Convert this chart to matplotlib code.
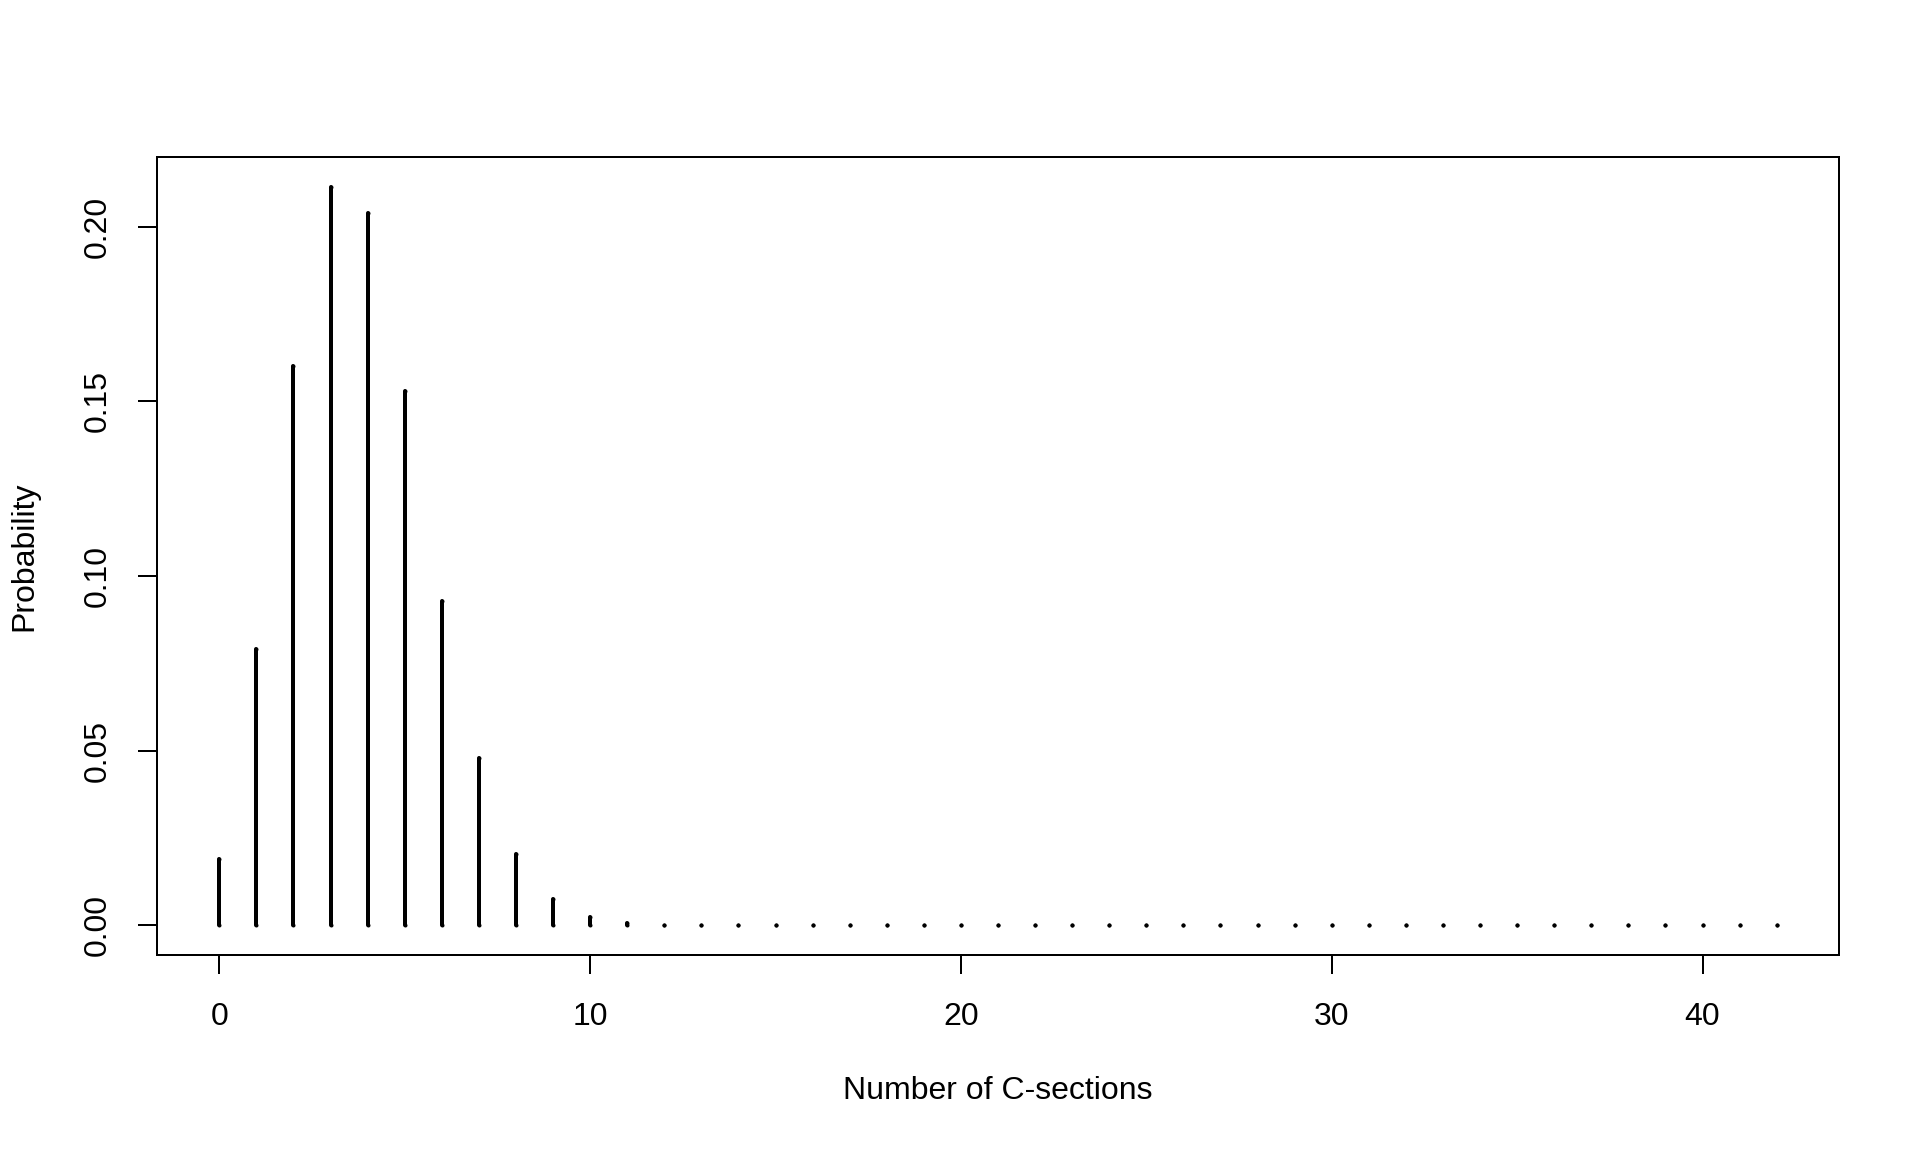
import matplotlib
matplotlib.use("Agg")
import matplotlib.pyplot as plt
import numpy as np

# values
n_csections = list(range(0, 43))
prob = [0.019, 0.079, 0.160, 0.2115, 0.204, 0.153, 0.093, 0.048, 0.0205, 0.0077,
        0.0025, 0.0007, 0.0002, 0.00004, 0.0, 0.0, 0.0, 0.0, 0.0, 0.0,
        0.0, 0.0, 0.0, 0.0, 0.0, 0.0, 0.0, 0.0, 0.0, 0.0,
        0.0, 0.0, 0.0, 0.0, 0.0, 0.0, 0.0, 0.0, 0.0, 0.0,
        0.0, 0.0, 0.0]
x_ticks = [0, 10, 20, 30, 40]
y_ticks = [0.00, 0.05, 0.10, 0.15, 0.20]
y_tick_labels = ["0.00", "0.05", "0.10", "0.15", "0.20"]

plt.rcParams['font.family'] = ['Liberation Sans', 'DejaVu Sans']
plt.rcParams['font.size'] = 12

DPI = 192
fig = plt.figure(figsize=(10, 6), dpi=DPI)
# R default margins (5.1, 4.1, 4.1, 2.1 lines), one line = 38.4 px here
ax = fig.add_axes([157 / 1920, 1 - 955 / 1152, 1682 / 1920, 798 / 1152])

lw = 1.5  # R lwd=2
x = np.array(n_csections)
y = np.array(prob)
ax.vlines(x, 0, y, colors="black", linewidth=lw, capstyle="round")
# round end caps so that the zero-height stems still show as dots
ax.plot(x, y, "o", color="black", markersize=lw, markeredgewidth=0, linestyle="none")
ax.plot(x, np.zeros_like(y), "o", color="black", markersize=lw, markeredgewidth=0, linestyle="none")

xr = x.max() - x.min()
ax.set_xlim(x.min() - 0.04 * xr, x.max() + 0.04 * xr)
yr = y.max() - y.min()
ax.set_ylim(y.min() - 0.04 * yr, y.max() + 0.04 * yr)

ax.set_xticks(x_ticks)
ax.set_yticks(y_ticks)
ax.set_yticklabels(y_tick_labels, rotation=90, va="center")
ax.tick_params(direction="out", length=7.2, width=0.75, colors="black", labelsize=12)
ax.tick_params(axis="x", pad=10.5)
ax.tick_params(axis="y", pad=9.5)
for s in ax.spines.values():
    s.set_linewidth(0.75)

ax.set_xlabel("Number of C-sections")
ax.set_ylabel("Probability")
ax.xaxis.set_label_coords(0.5, -136 / 798)
ax.xaxis.label.set_va("center")
ax.yaxis.set_label_coords(-132.5 / 1682, 0.5)
ax.yaxis.label.set_va("center")

fig.savefig("out.png", dpi=DPI)
